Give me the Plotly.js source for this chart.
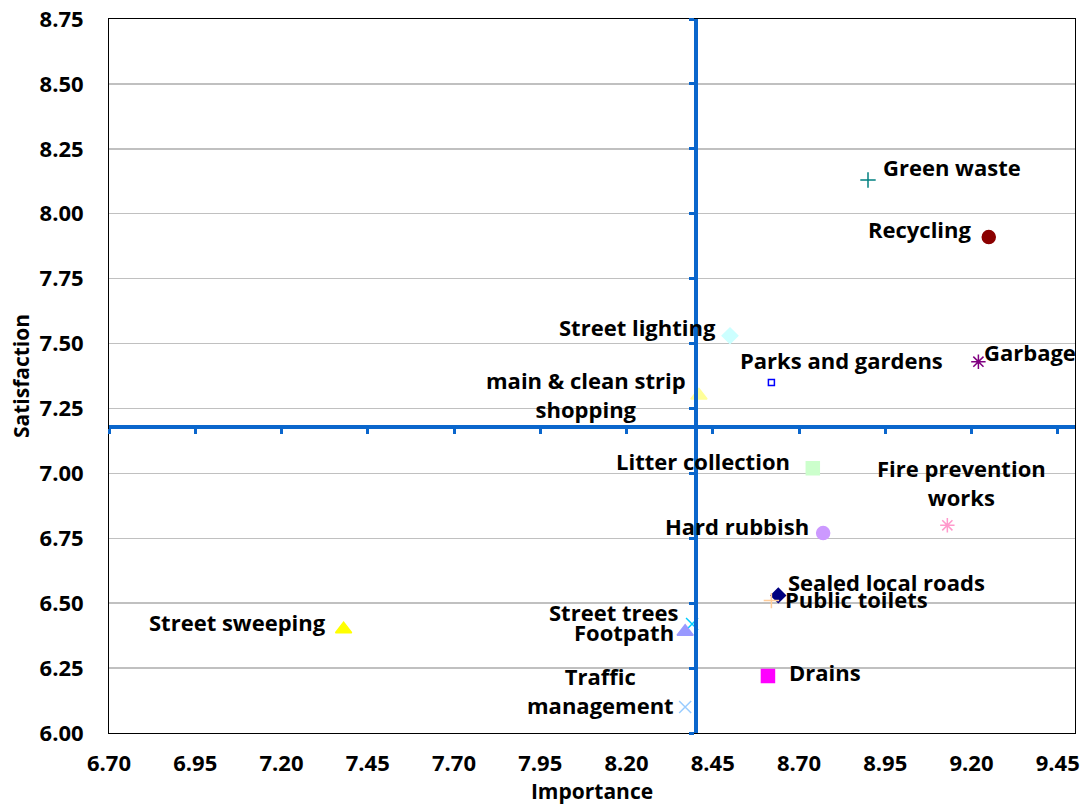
<!DOCTYPE html>
<html>
<head>
<meta charset="utf-8">
<script src="https://cdn.plot.ly/plotly-3.0.1.min.js"></script>
<style>html,body{margin:0;padding:0;background:#fff;}</style>
</head>
<body>
<div id="chart" style="width:1086px;height:805px;"></div>
<script>
// ---- data ----
var categories = ["Green waste","Recycling","Garbage","Parks and gardens","Street lighting",
  "main & clean strip<br>shopping","Litter collection","Fire prevention<br>works","Hard rubbish",
  "Sealed local roads","Public toilets","Street trees","Footpath","Traffic<br>management","Drains","Street sweeping"];
var importance   = [8.90, 9.25, 9.22, 8.62, 8.50, 8.41, 8.74, 9.13, 8.77, 8.64, 8.62, 8.39, 8.37, 8.37, 8.61, 7.38];
var satisfaction = [8.13, 7.91, 7.43, 7.35, 7.53, 7.30, 7.02, 6.80, 6.77, 6.53, 6.51, 6.42, 6.39, 6.10, 6.22, 6.40];
var xTicks = [6.70,6.95,7.20,7.45,7.70,7.95,8.20,8.45,8.70,8.95,9.20,9.45];
var yTicks = [6.00,6.25,6.50,6.75,7.00,7.25,7.50,7.75,8.00,8.25,8.50,8.75];
var xRange = [6.7, 9.5];
var yRange = [6.0, 8.75];
var crossImportance = 8.40;   // vertical reference line
var crossSatisfaction = 7.18; // horizontal reference line

// ---- styles ----
var symbols = ["cross-thin-open","circle","asterisk-open","square-open","diamond","triangle-up","square","asterisk-open","circle",
  "diamond","cross-thin-open","x-thin-open","triangle-up","x-thin-open","square","triangle-up"];
var colors = ["#008080","#8B0000","#800080","#0000FF","#CCFFFF","#FFFF99","#CCFFCC","#FF99CC","#CC99FF",
  "#000080","#FFCC99","#00CCFF","#9999FF","#99CCFF","#FF00FF","#FFFF00"];
var sizes = [11,13,12,6,12,14,13,12,13,11,11,12,14,12,13,14];
// label offsets (pixels): [xanchor, xshift, yshift]
var labelPos = [["left",13,13],["right",-15,8],["left",4,10],["center",70,22],["right",-12,9],
  ["center",-113,1],["right",-21,7],["center",14,43],["right",-12,7],
  ["left",8,13],["left",12,2],["right",-12,12],["right",-9,0],["center",-85,17],["left",19,4],["right",-16,7]];

var FAM = "'Open Sans', Lato, sans-serif";
var blue = "#0A66CC";

var traces = [{
  type:"scatter", mode:"markers", x:importance, y:satisfaction, text:categories,
  hoverinfo:"text", showlegend:false,
  marker:{symbol:symbols, color:colors, size:sizes, opacity:1, line:{color:colors, width:1.5}}
},{
  type:"scatter", mode:"markers", x:[], y:[], xaxis:"x2", yaxis:"y2", showlegend:false, hoverinfo:"skip"
}];

var annotations = categories.map(function(c,i){
  return {x:importance[i], y:satisfaction[i], xref:"x", yref:"y", text:c, showarrow:false,
    xanchor:labelPos[i][0], yanchor:"middle", xshift:labelPos[i][1], yshift:labelPos[i][2],
    font:{family:FAM, size:22, color:"#000", weight:"bold"}, align:"center"};
});

var xPos = (crossImportance - xRange[0])/(xRange[1]-xRange[0]);
var yPos = (crossSatisfaction - yRange[0])/(yRange[1]-yRange[0]);

var layout = {
  width:1086, height:805,
  margin:{l:109, r:11, t:19, b:72},
  paper_bgcolor:"#fff", plot_bgcolor:"#fff",
  font:{family:FAM, size:20, color:"#000", weight:"bold"},
  xaxis:{range:xRange, tickvals:xTicks, ticktext:xTicks.map(function(v){return v.toFixed(2);}),
    showgrid:false, zeroline:false, showline:true, mirror:true, linecolor:"#000", linewidth:1,
    ticks:"", ticklabelstandoff:11, tickfont:{family:FAM,size:22,color:"#000",weight:"bold"},
    title:{text:"Importance", font:{family:FAM,size:21,color:"#000",weight:"bold"}, standoff:7}},
  yaxis:{range:yRange, tickvals:yTicks, ticktext:yTicks.map(function(v){return v.toFixed(2);}),
    showgrid:true, gridcolor:"#C0C0C0", gridwidth:1.5, zeroline:false, showline:true, mirror:true,
    linecolor:"#000", linewidth:1, ticks:"", ticklabelstandoff:20,
    tickfont:{family:FAM,size:22,color:"#000",weight:"bold"},
    title:{text:"Satisfaction", font:{family:FAM,size:21,color:"#000",weight:"bold"}, standoff:4}},
  xaxis2:{overlaying:"x", anchor:"free", position:yPos, range:xRange, tickvals:xTicks,
    showticklabels:false, showgrid:false, zeroline:false, showline:true, linecolor:blue, linewidth:4,
    ticks:"outside", ticklen:5, tickwidth:3, tickcolor:blue, side:"bottom"},
  yaxis2:{overlaying:"y", anchor:"free", position:xPos, range:yRange, tickvals:yTicks,
    showticklabels:false, showgrid:false, zeroline:false, showline:true, linecolor:blue, linewidth:4,
    ticks:"outside", ticklen:5, tickwidth:3, tickcolor:blue, side:"left"},
  annotations:annotations
};

Plotly.newPlot("chart", traces, layout, {displayModeBar:false, staticPlot:true});
</script>
</body>
</html>
